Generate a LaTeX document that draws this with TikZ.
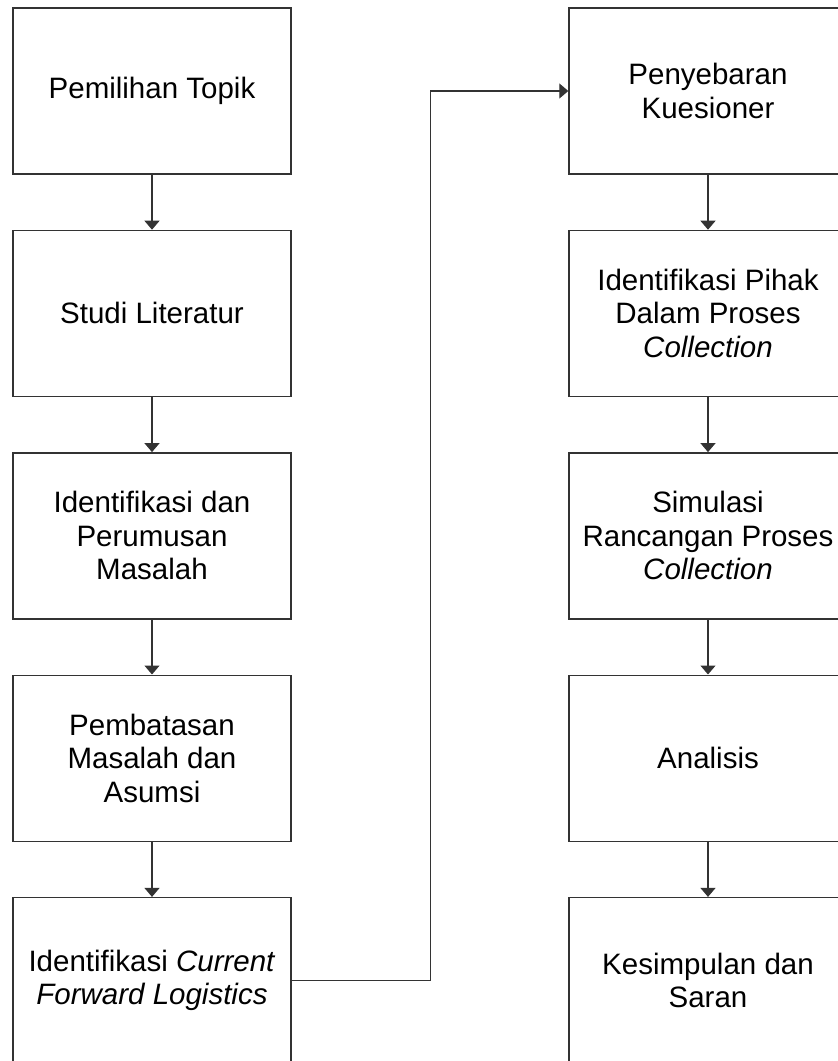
\documentclass[tikz,border=0pt]{standalone}
\usepackage{fontspec}
\setmainfont{Liberation Sans}
\usetikzlibrary{positioning,arrows.meta}
\definecolor{boxline}{HTML}{333333}

\begin{document}
\begin{tikzpicture}[x=1pt, y=1pt, node distance=55pt,
  stepbox/.style={draw=boxline, line width=1.4pt, fill=white, minimum width=278pt,
    minimum height=166pt, inner sep=0pt, align=center,
    font=\fontsize{29.5}{33.5}\selectfont},
  flow/.style={draw=boxline, line width=1.3pt, -{Triangle[width=15pt,length=9pt]}}]
  % page frame (right and bottom boxes run past it)
  \useasboundingbox (0,0) rectangle (838,-1061);
  \clip (0,0) rectangle (838,-1061);
  % left column
  \node[stepbox] (topik) at (152,-91) {Pemilihan Topik};
  \node[stepbox, below=of topik] (literatur) {Studi Literatur};
  \node[stepbox, below=of literatur] (rumusan) {Identifikasi dan\\Perumusan\\Masalah};
  \node[stepbox, below=of rumusan] (asumsi) {Pembatasan\\Masalah dan\\Asumsi};
  \node[stepbox, below=of asumsi] (forward) {Identifikasi \textit{Current}\\\textit{Forward Logistics}};
  % right column
  \node[stepbox] (kuesioner) at (708,-91) {Penyebaran\\Kuesioner};
  \node[stepbox, below=of kuesioner] (pihak) {Identifikasi Pihak\\Dalam Proses\\\textit{Collection}};
  \node[stepbox, below=of pihak] (simulasi) {Simulasi\\Rancangan Proses\\\textit{Collection}};
  \node[stepbox, below=of simulasi] (analisis) {Analisis};
  \node[stepbox, below=of analisis] (saran) {Kesimpulan dan\\Saran};
  % connectors
  \foreach \a/\b in {topik/literatur, literatur/rumusan, rumusan/asumsi, asumsi/forward,
                     kuesioner/pihak, pihak/simulasi, simulasi/analisis, analisis/saran}
    \draw[flow] (\a) -- (\b);
  \draw[flow] (forward.east) -- ++(139,0) |- (kuesioner.west);
\end{tikzpicture}
\end{document}
